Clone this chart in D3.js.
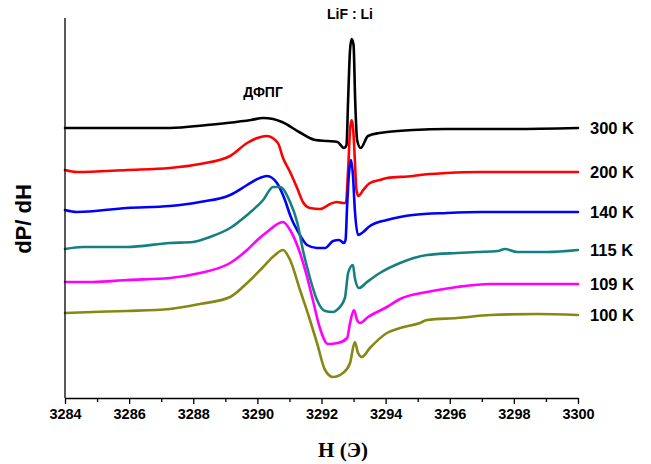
<!DOCTYPE html>
<html><head><meta charset="utf-8">
<script src="https://cdn.jsdelivr.net/npm/d3@7"></script>
<style>body{margin:0;background:#fff}svg{display:block}</style>
</head><body>
<svg id="chart" width="651" height="464"></svg>
<script>
// ---- data (field H in Oe, signal dP/dH in arbitrary units incl. vertical offset) ----
const seriesNames = ["300 K", "200 K", "140 K", "115 K", "109 K", "100 K"];
const seriesColors = ["#000000", "#ff0000", "#0000ff", "#168080", "#ff00ff", "#878714"];
const xTicks = [3284, 3286, 3288, 3290, 3292, 3294, 3296, 3298, 3300];

const field300 = [3284.00, 3285.50, 3287.27, 3288.43, 3289.05, 3289.80, 3290.18, 3290.49, 3290.77, 3291.30, 3291.80, 3292.20, 3292.50, 3292.70, 3292.78, 3292.83, 3292.89, 3292.94, 3293.00, 3293.05, 3293.11, 3293.22, 3293.45, 3293.80, 3294.04, 3294.85, 3295.91, 3298.00, 3300.00];
const signal300 = [270, 270, 270, 273, 275, 278, 280, 279, 276, 266, 258, 257, 256, 250, 253, 298, 348, 359, 353, 298, 258, 250, 262, 265, 266, 268, 269, 269, 270];

const field200 = [3284.00, 3284.37, 3285.93, 3287.27, 3288.21, 3289.15, 3289.68, 3290.00, 3290.30, 3290.64, 3290.80, 3291.02, 3291.24, 3291.42, 3291.64, 3291.95, 3292.27, 3292.48, 3292.67, 3292.76, 3292.83, 3292.89, 3292.94, 3292.99, 3293.04, 3293.09, 3293.15, 3293.30, 3293.51, 3293.82, 3294.04, 3294.85, 3295.07, 3295.91, 3296.94, 3298.50, 3300.00];
const signal200 = [228, 226, 228, 230, 234, 242, 255, 260, 262, 255, 240, 226, 210, 196, 190, 189, 194, 196, 195, 195, 228, 268, 278, 268, 238, 208, 202, 208, 215, 218, 220, 222, 223, 225, 226, 226, 226];

const field140 = [3284.00, 3284.37, 3285.93, 3287.27, 3288.21, 3289.15, 3289.68, 3290.00, 3290.30, 3290.61, 3290.86, 3291.02, 3291.11, 3291.24, 3291.55, 3291.86, 3292.11, 3292.36, 3292.55, 3292.70, 3292.75, 3292.80, 3292.86, 3292.92, 3292.98, 3293.04, 3293.14, 3293.30, 3293.51, 3294.04, 3294.45, 3294.85, 3295.91, 3297.00, 3300.00];
const signal140 = [188, 186, 190, 192, 196, 203, 213, 219, 222, 215, 198, 183, 176, 168, 153, 150, 150, 157, 158, 155, 158, 193, 226, 238, 223, 188, 163, 166, 172, 178, 181, 183, 185, 186, 186];

const field115 = [3284.00, 3284.56, 3285.93, 3287.27, 3287.99, 3288.52, 3289.15, 3289.68, 3290.18, 3290.49, 3290.71, 3290.77, 3291.02, 3291.24, 3291.42, 3291.64, 3291.86, 3292.11, 3292.36, 3292.48, 3292.73, 3292.83, 3292.98, 3293.04, 3293.17, 3293.42, 3293.82, 3294.45, 3295.29, 3296.23, 3296.85, 3297.50, 3297.72, 3298.10, 3299.03, 3300.00];
const signal115 = [149, 151, 151, 155, 156, 161, 170, 183, 198, 211, 211, 210, 196, 176, 148, 120, 98, 87, 86, 88, 100, 125, 133, 120, 110, 116, 125, 135, 143, 145, 146, 147, 149, 146, 146, 148];

const field109 = [3284.00, 3284.87, 3285.93, 3287.27, 3288.21, 3289.15, 3289.68, 3290.00, 3290.30, 3290.80, 3291.02, 3291.33, 3291.55, 3291.73, 3291.95, 3292.20, 3292.51, 3292.80, 3292.89, 3293.01, 3293.11, 3293.20, 3293.45, 3294.04, 3294.45, 3295.29, 3296.23, 3297.26, 3300.00];
const signal109 = [116, 116, 118, 120, 125, 135, 148, 158, 166, 176, 168, 145, 121, 98, 70, 54, 55, 60, 75, 88, 78, 75, 81, 91, 99, 106, 111, 114, 114];

const field100 = [3284.00, 3284.87, 3285.93, 3287.27, 3288.21, 3289.15, 3289.68, 3290.18, 3290.55, 3290.80, 3291.02, 3291.33, 3291.64, 3291.86, 3292.11, 3292.36, 3292.67, 3292.89, 3293.04, 3293.14, 3293.26, 3293.51, 3294.04, 3294.45, 3295.07, 3295.29, 3296.23, 3297.26, 3298.72, 3300.00];
const signal100 = [85, 86, 87, 89, 94, 101, 115, 131, 143, 148, 138, 108, 78, 55, 28, 21, 25, 35, 56, 45, 41, 50, 65, 70, 75, 78, 80, 83, 84, 83];

const fields = [field300, field200, field140, field115, field109, field100];
const signals = [signal300, signal200, signal140, signal115, signal109, signal100];

// ---- drawing ----
const svg = d3.select("#chart");
const x = d3.scaleLinear().domain([3284, 3300]).range([65, 578]);
const y = d3.scaleLinear().domain([0, 380]).range([398, 18]);
const sans = "'Liberation Sans', Arial, sans-serif";

const series = seriesNames.map((name, i) => ({
  name, color: seriesColors[i],
  pts: fields[i].map((h, j) => ({h, v: signals[i][j]}))
}));

const line = d3.line().x(d => x(d.h)).y(d => y(d.v)).curve(d3.curveMonotoneX);

svg.append("g").selectAll("path").data(series).join("path")
  .attr("d", d => line(d.pts))
  .attr("fill", "none")
  .attr("stroke", d => d.color)
  .attr("stroke-width", 2.6)
  .attr("stroke-linejoin", "round")
  .attr("stroke-linecap", "round");

// x axis: minor ticks, then major ticks with labels
const xMinor = svg.append("g").attr("transform", `translate(0,${y(0)})`)
  .call(d3.axisBottom(x).tickValues(d3.range(3285, 3300, 2)).tickSize(4).tickFormat(""));
xMinor.select(".domain").remove();
const xAxisMaj = svg.append("g").attr("transform", `translate(0,${y(0)})`)
  .call(d3.axisBottom(x).tickValues(xTicks).tickSize(6).tickSizeOuter(0).tickFormat(d3.format("d")).tickPadding(5));
svg.selectAll(".domain, .tick line").attr("stroke", "#000").attr("stroke-width", 1.3);
xAxisMaj.selectAll("text")
  .attr("font-family", sans)
  .attr("font-weight", "bold").attr("font-size", 14.5).attr("fill", "#000");

// y axis line only
svg.append("line").attr("x1", x(3284)).attr("x2", x(3284))
  .attr("y1", y(0)).attr("y2", y(380))
  .attr("stroke", "#000").attr("stroke-width", 1.3);

// axis titles
svg.append("text").attr("x", 343).attr("y", 452)
  .attr("text-anchor", "middle").attr("dominant-baseline", "middle")
  .attr("font-family", "'Liberation Serif', 'Times New Roman', serif")
  .attr("font-weight", "bold").attr("font-size", 21).text("H (Э)");

svg.append("text").attr("transform", "translate(25,219) rotate(-90)")
  .attr("text-anchor", "middle").attr("dominant-baseline", "middle")
  .attr("font-family", sans)
  .attr("font-weight", "bold").attr("font-size", 22).text("dP/ dH");

// series labels at right end
svg.append("g").selectAll("text").data(series).join("text")
  .attr("x", 590)
  .attr("y", d => y(d.pts[d.pts.length - 1].v) + 2)
  .attr("dominant-baseline", "middle")
  .attr("font-family", sans)
  .attr("font-weight", "bold").attr("font-size", 16.5)
  .text(d => d.name);

// annotations
svg.append("text").attr("x", 350).attr("y", 15)
  .attr("text-anchor", "middle").attr("dominant-baseline", "middle")
  .attr("font-family", sans)
  .attr("font-weight", "bold").attr("font-size", 14).text("LiF : Li");
svg.append("text").attr("x", 263).attr("y", 93)
  .attr("text-anchor", "middle").attr("dominant-baseline", "middle")
  .attr("font-family", sans)
  .attr("font-weight", "bold").attr("font-size", 14).text("ДФПГ");
</script>
</body></html>
